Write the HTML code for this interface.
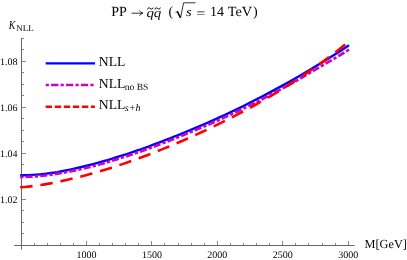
<!DOCTYPE html>
<html><head><meta charset="utf-8">
<style>
html,body{margin:0;padding:0;background:#fff;}
body{width:407px;height:260px;overflow:hidden;}
svg{display:block;}
text{font-family:"Liberation Serif",serif;fill:#000;text-rendering:geometricPrecision;}
</style></head>
<body>
<svg width="407" height="260" viewBox="0 0 407 260">
<rect width="407" height="260" fill="#fff"/>
<g stroke="#888" stroke-width="1" fill="none">
<line x1="21.5" y1="245.0" x2="21.5" y2="241.0"/><line x1="34.5" y1="245.0" x2="34.5" y2="243.0"/><line x1="47.5" y1="245.0" x2="47.5" y2="243.0"/><line x1="60.5" y1="245.0" x2="60.5" y2="243.0"/><line x1="73.5" y1="245.0" x2="73.5" y2="243.0"/><line x1="86.5" y1="245.0" x2="86.5" y2="241.0"/><line x1="99.5" y1="245.0" x2="99.5" y2="243.0"/><line x1="112.5" y1="245.0" x2="112.5" y2="243.0"/><line x1="125.5" y1="245.0" x2="125.5" y2="243.0"/><line x1="138.5" y1="245.0" x2="138.5" y2="243.0"/><line x1="151.5" y1="245.0" x2="151.5" y2="241.0"/><line x1="164.5" y1="245.0" x2="164.5" y2="243.0"/><line x1="178.5" y1="245.0" x2="178.5" y2="243.0"/><line x1="191.5" y1="245.0" x2="191.5" y2="243.0"/><line x1="204.5" y1="245.0" x2="204.5" y2="243.0"/><line x1="217.5" y1="245.0" x2="217.5" y2="241.0"/><line x1="230.5" y1="245.0" x2="230.5" y2="243.0"/><line x1="243.5" y1="245.0" x2="243.5" y2="243.0"/><line x1="256.5" y1="245.0" x2="256.5" y2="243.0"/><line x1="269.5" y1="245.0" x2="269.5" y2="243.0"/><line x1="282.5" y1="245.0" x2="282.5" y2="241.0"/><line x1="295.5" y1="245.0" x2="295.5" y2="243.0"/><line x1="308.5" y1="245.0" x2="308.5" y2="243.0"/><line x1="322.5" y1="245.0" x2="322.5" y2="243.0"/><line x1="335.5" y1="245.0" x2="335.5" y2="243.0"/><line x1="348.5" y1="245.0" x2="348.5" y2="241.0"/><line x1="22.0" y1="245.5" x2="26.0" y2="245.5"/><line x1="22.0" y1="233.5" x2="24.0" y2="233.5"/><line x1="22.0" y1="222.5" x2="24.0" y2="222.5"/><line x1="22.0" y1="210.5" x2="24.0" y2="210.5"/><line x1="22.0" y1="199.5" x2="26.0" y2="199.5"/><line x1="22.0" y1="187.5" x2="24.0" y2="187.5"/><line x1="22.0" y1="176.5" x2="24.0" y2="176.5"/><line x1="22.0" y1="164.5" x2="24.0" y2="164.5"/><line x1="22.0" y1="153.5" x2="26.0" y2="153.5"/><line x1="22.0" y1="141.5" x2="24.0" y2="141.5"/><line x1="22.0" y1="130.5" x2="24.0" y2="130.5"/><line x1="22.0" y1="118.5" x2="24.0" y2="118.5"/><line x1="22.0" y1="107.5" x2="26.0" y2="107.5"/><line x1="22.0" y1="95.5" x2="24.0" y2="95.5"/><line x1="22.0" y1="84.5" x2="24.0" y2="84.5"/><line x1="22.0" y1="72.5" x2="24.0" y2="72.5"/><line x1="22.0" y1="61.5" x2="26.0" y2="61.5"/><line x1="22.0" y1="49.5" x2="24.0" y2="49.5"/><line x1="22.0" y1="38.5" x2="24.0" y2="38.5"/>
</g>
<g stroke="#666" stroke-width="1" fill="none">
<line x1="14.3" y1="245.5" x2="354.7" y2="245.5"/>
<line x1="21.5" y1="249.6" x2="21.5" y2="38"/>
</g>

<g fill="none" stroke-width="2.5">
<path d="M20.10,175.37 L24.26,175.28 L28.43,175.13 L32.59,174.91 L36.75,174.64 L40.92,174.29 L45.08,173.83 L49.24,173.31 L53.41,172.73 L57.57,172.07 L61.73,171.29 L65.90,170.47 L70.06,169.60 L74.22,168.68 L78.39,167.72 L82.55,166.73 L86.71,165.72 L90.88,164.66 L95.04,163.57 L99.20,162.43 L103.37,161.26 L107.53,160.05 L111.69,158.80 L115.86,157.51 L120.02,156.19 L124.18,154.87 L128.35,153.52 L132.51,152.13 L136.67,150.71 L140.84,149.26 L145.00,147.79 L149.16,146.28 L153.33,144.74 L157.49,143.18 L161.65,141.59 L165.82,139.97 L169.98,138.36 L174.14,136.73 L178.31,135.07 L182.47,133.39 L186.63,131.69 L190.79,129.96 L194.96,128.21 L199.12,126.44 L203.28,124.64 L207.45,122.81 L211.61,120.96 L215.77,119.09 L219.94,117.20 L224.10,115.28 L228.26,113.34 L232.43,111.36 L236.59,109.34 L240.75,107.30 L244.92,105.24 L249.08,103.16 L253.24,101.05 L257.41,98.93 L261.57,96.78 L265.73,94.60 L269.90,92.39 L274.06,90.15 L278.22,87.89 L282.39,85.60 L286.55,83.30 L290.71,80.97 L294.88,78.61 L299.04,76.20 L303.20,73.76 L307.37,71.30 L311.53,68.81 L315.69,66.29 L319.86,63.75 L324.02,61.20 L328.18,58.63 L332.35,56.03 L336.51,53.40 L340.67,50.74 L344.84,48.05 L349.00,45.32" stroke="#0000ff" stroke-width="2.4"/>
<path d="M20.10,176.94 L24.26,176.86 L28.43,176.73 L32.59,176.54 L36.75,176.30 L40.92,175.97 L45.08,175.47 L49.24,174.92 L53.41,174.32 L57.57,173.67 L61.73,172.98 L65.90,172.24 L70.06,171.45 L74.22,170.62 L78.39,169.75 L82.55,168.80 L86.71,167.80 L90.88,166.75 L95.04,165.66 L99.20,164.53 L103.37,163.36 L107.53,162.16 L111.69,160.92 L115.86,159.64 L120.02,158.33 L124.18,157.00 L128.35,155.64 L132.51,154.25 L136.67,152.82 L140.84,151.36 L145.00,149.87 L149.16,148.35 L153.33,146.80 L157.49,145.22 L161.65,143.65 L165.82,142.08 L169.98,140.49 L174.14,138.87 L178.31,137.22 L182.47,135.55 L186.63,133.85 L190.79,132.12 L194.96,130.37 L199.12,128.59 L203.28,126.82 L207.45,125.03 L211.61,123.21 L215.77,121.37 L219.94,119.51 L224.10,117.62 L228.26,115.71 L232.43,113.78 L236.59,111.83 L240.75,109.85 L244.92,107.85 L249.08,105.81 L253.24,103.72 L257.41,101.61 L261.57,99.48 L265.73,97.32 L269.90,95.15 L274.06,92.95 L278.22,90.74 L282.39,88.50 L286.55,86.24 L290.71,83.91 L294.88,81.56 L299.04,79.18 L303.20,76.78 L307.37,74.36 L311.53,71.92 L315.69,69.46 L319.86,66.97 L324.02,64.56 L328.18,62.14 L332.35,59.69 L336.51,57.22 L340.67,54.73 L344.84,52.21 L349.00,49.67" stroke="#cc00cc" stroke-width="2.7" stroke-dasharray="3.3 2.15 7.1 2.15"/>
<path d="M20.10,187.32 L24.22,186.99 L28.34,186.60 L32.46,186.15 L36.58,185.64 L40.70,185.07 L44.82,184.38 L48.94,183.64 L53.06,182.86 L57.18,182.02 L61.30,181.13 L65.42,180.20 L69.54,179.22 L73.66,178.26 L77.78,177.27 L81.90,176.23 L86.02,175.16 L90.14,174.04 L94.26,172.89 L98.38,171.70 L102.51,170.48 L106.63,169.22 L110.75,167.93 L114.87,166.61 L118.99,165.25 L123.11,163.87 L127.23,162.45 L131.35,161.00 L135.47,159.53 L139.59,158.02 L143.71,156.49 L147.83,154.93 L151.95,153.34 L156.07,151.73 L160.19,150.09 L164.31,148.42 L168.43,146.73 L172.55,145.01 L176.67,143.27 L180.79,141.50 L184.91,139.70 L189.03,137.88 L193.15,136.03 L197.27,134.16 L201.39,132.26 L205.51,130.33 L209.63,128.38 L213.75,126.40 L217.87,124.39 L221.99,122.36 L226.11,120.29 L230.23,118.20 L234.35,116.08 L238.47,113.93 L242.59,111.74 L246.71,109.53 L250.83,107.28 L254.95,105.00 L259.07,102.69 L263.19,100.34 L267.32,97.95 L271.44,95.53 L275.56,93.07 L279.68,90.57 L283.80,88.03 L287.92,85.44 L292.04,82.82 L296.16,80.15 L300.28,77.43 L304.40,74.67 L308.52,71.86 L312.64,68.99 L316.76,66.08 L320.88,63.11 L325.00,60.09 L329.12,57.01 L333.24,53.87 L337.36,50.67 L341.48,47.41 L345.60,44.08" stroke="#ff0000" stroke-width="2.6" stroke-dasharray="12.5 7.9"/>
<line x1="45.7" y1="63.4" x2="95" y2="63.4" stroke="#0000ff" stroke-width="2.4"/>
<line x1="45.7" y1="85" x2="93.6" y2="85" stroke="#cc00cc" stroke-dasharray="3.2 2.2 7.3 2.2"/>
<line x1="45.7" y1="106.7" x2="94.9" y2="106.7" stroke="#ff0000" stroke-dasharray="6.4 2.65"/>
</g>
<g opacity="0.99"><text x="86.45" y="257.6" text-anchor="middle" font-size="10">1000</text><text x="151.90" y="257.6" text-anchor="middle" font-size="10">1500</text><text x="217.35" y="257.6" text-anchor="middle" font-size="10">2000</text><text x="282.80" y="257.6" text-anchor="middle" font-size="10">2500</text><text x="348.25" y="257.6" text-anchor="middle" font-size="10">3000</text><text x="17.4" y="202.76" text-anchor="end" font-size="10">1.02</text><text x="17.4" y="156.72" text-anchor="end" font-size="10">1.04</text><text x="17.4" y="110.68" text-anchor="end" font-size="10">1.06</text><text x="17.4" y="64.64" text-anchor="end" font-size="10">1.08</text>
<text x="98.79" y="66.3" font-size="13.7">NLL</text><text x="98.79" y="88.2" font-size="13.7">NLL</text><text x="124.76" y="89.9" font-size="9.5">no BS</text><text x="98.79" y="109.4" font-size="13.7">NLL</text><text transform="translate(124.85,111.2) scale(1.0066,1)" font-size="10" font-style="italic">s+h</text>
<text transform="translate(8.80,28.6) scale(0.8017,1)" font-size="12.3" font-style="italic">K</text><text x="16.33" y="30.5" font-size="8.9">NLL</text><text x="364.53" y="247.9" font-size="12.3">M[GeV]</text>
<text x="111.28" y="16.35" font-size="14">PP</text><text transform="translate(146.38,16.5) scale(1.1905,1)" font-size="12.6" font-style="italic">q</text><text transform="translate(153.67,16.5) scale(1.1905,1)" font-size="12.6" font-style="italic">q</text><text x="168.57" y="16.35" font-size="14">(</text><text transform="translate(185.98,16.4) scale(1.1502,1)" font-size="12.6" font-style="italic">s</text><text transform="translate(196.29,17.55) scale(1.1521,1)" font-size="14">=</text><text x="209.94" y="16.35" font-size="14">14</text><text transform="translate(227.71,16.35) scale(1.0235,1)" font-size="14">TeV</text><text x="253.08" y="16.35" font-size="14">)</text>
</g>
<path d="M131.6,13.2 H142.6 M139.4,10.6 Q140.4,12.5 143,13.2 Q140.4,13.9 139.4,15.8" fill="none" stroke="#000" stroke-width="0.8"/>
<path d="M147.5,9.4 C148,7.6 149.4,7.6 150.3,8.5 C151.2,9.4 152.6,9.4 153.1,7.6" fill="none" stroke="#000" stroke-width="1"/>
<path d="M154.8,9.4 C155.3,7.6 156.7,7.6 157.6,8.5 C158.5,9.4 159.9,9.4 160.4,7.6" fill="none" stroke="#000" stroke-width="1"/>
<path d="M175.5,12.6 L177.3,11.5" fill="none" stroke="#000" stroke-width="0.7"/>
<path d="M177.2,11.4 L180.5,17.6" fill="none" stroke="#000" stroke-width="1.5"/>
<path d="M180.5,18 L183.6,2.8 L195.5,2.8" fill="none" stroke="#000" stroke-width="0.8"/>
</svg>
</body></html>
